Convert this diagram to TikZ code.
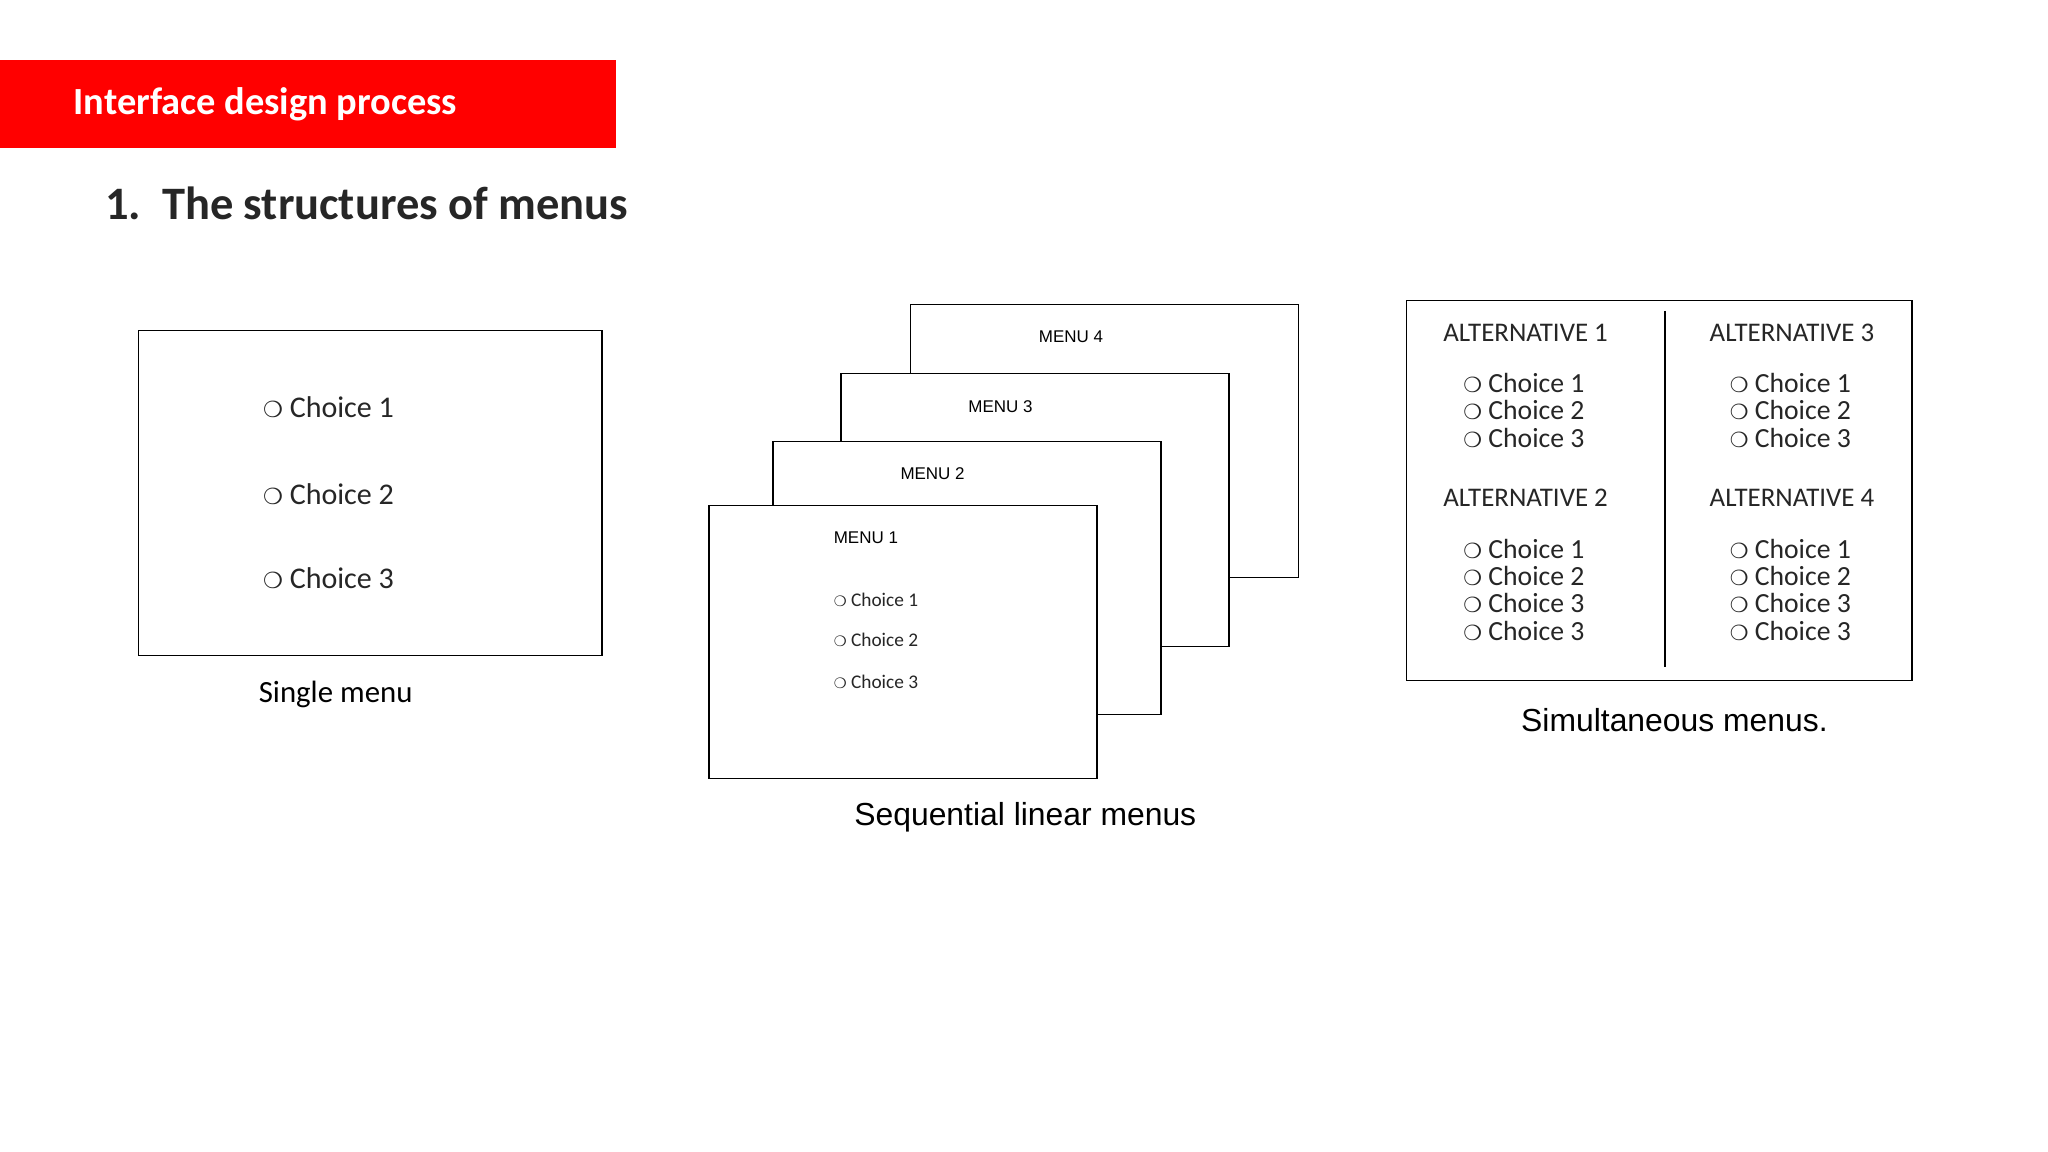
\documentclass[tikz,border=0pt]{standalone}
\usepackage{fontspec}
\setmainfont{Carlito}
\newfontfamily\arialf{Liberation Sans}
\newfontfamily\symf{DejaVu Sans}
\begin{document}
\begin{tikzpicture}[x=0.5pt,y=-0.5pt,
  box/.style={draw=black,fill=white,line width=0.6pt},
  ch/.style={anchor=west,inner sep=0pt,text=black!85},
  alt/.style={inner sep=0pt,font=\fontsize{10.3}{12}\selectfont,text=black!85}]
\useasboundingbox[fill=white] (0,0) rectangle (1568,882);
\fill[red] (0,46) rectangle (472,113);
\node[anchor=west,inner sep=0pt,text=white,font=\bfseries\fontsize{14.7}{17}\selectfont] (t) at (56,80) {Interface design process};
\node[anchor=west,inner sep=0pt,text=black!85,font=\bfseries\fontsize{17.8}{21}\selectfont] (h) at (80,156) {1.\ \ The structures of menus};
% single
\draw[box] (106,253) rectangle (461,502);
\foreach \y/\n in {312/1,378/2,443/3}
  \node[ch,font=\fontsize{11.5}{13}\selectfont] (s\n) at (201,\y) {{\symf\fontsize{8.5}{10}\selectfont ❍} Choice \n};
\node[font=\fontsize{11.8}{14}\selectfont] (sc) at (257,532) {Single menu};
% sequential
\draw[box] (697,233) rectangle (994,442);
\node[font=\arialf\fontsize{6.5}{8}\selectfont] (m4) at (820,258) {MENU 4};
\draw[box] (644,286) rectangle (941,495);
\node[font=\arialf\fontsize{6.5}{8}\selectfont] (m3) at (766,311) {MENU 3};
\draw[box] (592,338) rectangle (889,547);
\node[font=\arialf\fontsize{6.5}{8}\selectfont] (m2) at (714,363) {MENU 2};
\draw[box] (543,387) rectangle (840,596);
\node[anchor=west,inner sep=0pt,font=\arialf\fontsize{6.5}{8}\selectfont] (m1) at (638,412) {MENU 1};
\foreach \y/\n in {459/1,490/2,522/3}
  \node[ch,font=\fontsize{7.4}{9}\selectfont] (q\n) at (638,\y) {{\symf\fontsize{5.5}{6}\selectfont ❍} Choice \n};
\node[font=\arialf\fontsize{12.2}{14}\selectfont] (qc) at (785,626) {Sequential linear menus};
% simultaneous
\draw[box] (1077,230) rectangle (1464,521);
\coordinate (d1) at (1275,238); \coordinate (d2) at (1275,511);
\draw[line width=0.8pt] (d1) -- (d2);
\node[alt] (a1) at (1168,255) {ALTERNATIVE 1};
\node[alt] (a3) at (1372,255) {ALTERNATIVE 3};
\node[alt] (a2) at (1168,381) {ALTERNATIVE 2};
\node[alt] (a4) at (1372,381) {ALTERNATIVE 4};
\foreach \x/\c in {1120/l,1324/r}{
  \foreach \y/\n in {293/1,314/2,335/3}
    \node[ch,font=\fontsize{10.6}{12}\selectfont] (\c a\n) at (\x,\y) {{\symf\fontsize{8}{9}\selectfont ❍} Choice \n};
  \foreach \y/\n/\k in {420/1/1,441/2/2,462/3/3,483/3/4}
    \node[ch,font=\fontsize{10.6}{12}\selectfont] (\c b\k) at (\x,\y) {{\symf\fontsize{8}{9}\selectfont ❍} Choice \n};
}
\node[font=\arialf\fontsize{12.2}{14}\selectfont] (zc) at (1282,551) {Simultaneous menus.};
\end{tikzpicture}
\end{document}
